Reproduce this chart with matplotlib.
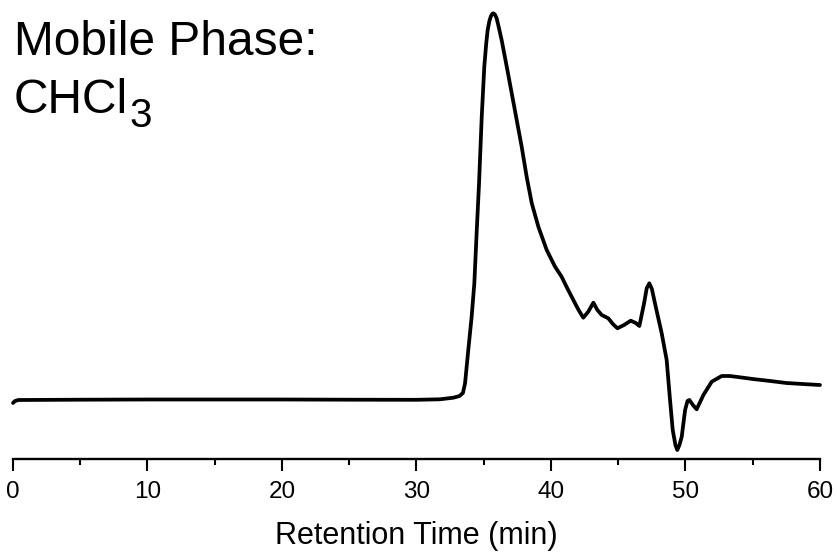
import matplotlib
matplotlib.use("Agg")
import matplotlib.pyplot as plt
from matplotlib.ticker import MultipleLocator

plt.rcParams['font.family'] = ['Liberation Sans', 'DejaVu Sans']

# Retention time (min)
time_min = [0, 0.15, 0.4, 5, 10, 15, 20, 25, 30, 31.75, 32.74, 33.2, 33.45, 33.61,
            33.85, 34.10, 34.30, 34.47, 34.65, 34.85, 35.04, 35.18, 35.29, 35.42,
            35.52, 35.62, 35.71, 35.83, 35.96, 36.13, 36.33, 36.71, 37.08, 37.45,
            37.82, 38.19, 38.57, 39.06, 39.68, 40.30, 40.79, 41.2, 41.66, 42.05,
            42.40, 42.77, 43.15, 43.45, 43.77, 44.26, 44.6, 44.94, 45.43, 45.93,
            46.3, 46.57, 46.92, 47.12, 47.31, 47.5, 47.73, 48.23, 48.6, 48.85,
            49.05, 49.25, 49.39, 49.55, 49.72, 49.97, 50.15, 50.29, 50.55, 50.83,
            51.33, 51.95, 52.69, 53.3, 54.05, 55.0, 56.3, 57.5, 58.7, 60.0]
# Detector signal (arbitrary units)
signal = [-3, -1, 0, 0.3, 0.5, 0.5, 0.5, 0.3, 0.2, 0.7, 2.3, 4, 7, 16.7,
          50, 83.3, 116.7, 166.7, 216.7, 283.3, 333.3, 356, 370, 379,
          383.3, 386, 386.7, 385.5, 381.7, 372, 360, 333.3, 306.7, 280,
          253.3, 223.3, 196.7, 173.3, 150, 133.3, 123.3, 112, 100, 90,
          82.3, 88.3, 97.3, 90, 85, 81.7, 76, 71.7, 75, 79.3,
          77, 74, 96.7, 112, 116.7, 111, 96.7, 66.7, 40, 0,
          -30, -45, -50, -45, -36.7, -10, -1, 0, -5, -9.3,
          5, 18.3, 24, 24, 22.7, 21, 19, 17, 16, 15]

x_ticks = [0, 10, 20, 30, 40, 50, 60]

W, H = 837, 555
fig = plt.figure(figsize=(W / 100, H / 100), dpi=100)
ax = fig.add_axes([13 / W, (H - 459) / H, 807 / W, 459 / H])
ax.plot(time_min, signal, color='black', lw=2.7, solid_joinstyle='round',
        solid_capstyle='round', clip_on=False)
ax.set_xlim(0, 60)
ax.set_ylim(-59, 400)

for s in ['top', 'right', 'left']:
    ax.spines[s].set_visible(False)
ax.spines['bottom'].set_linewidth(1.7)
ax.set_yticks([])
ax.set_xticks(x_ticks)
ax.set_xticklabels([str(v) for v in x_ticks])
ax.xaxis.set_minor_locator(MultipleLocator(5))
ax.tick_params(axis='x', which='major', length=8.6, width=1.5, pad=7,
               labelsize=17.5, direction='out')
ax.tick_params(axis='x', which='minor', length=4.3, width=1.5, direction='out')
ax.set_xlabel('Retention Time (min)', fontsize=22, labelpad=13)

t1 = fig.text(14 / W, 1 - 55 / H, 'Mobile Phase:', fontsize=34.5,
              ha='left', va='baseline')
t2 = fig.text(14 / W, 1 - 113 / H, 'CHCl', fontsize=34.5, ha='left', va='baseline')
fig.canvas.draw()
bb = t2.get_window_extent()
fig.text(bb.x1 / W + 1 / W, 1 - 127 / H, '3', fontsize=29, ha='left', va='baseline')

fig.savefig('out.png', dpi=100)
